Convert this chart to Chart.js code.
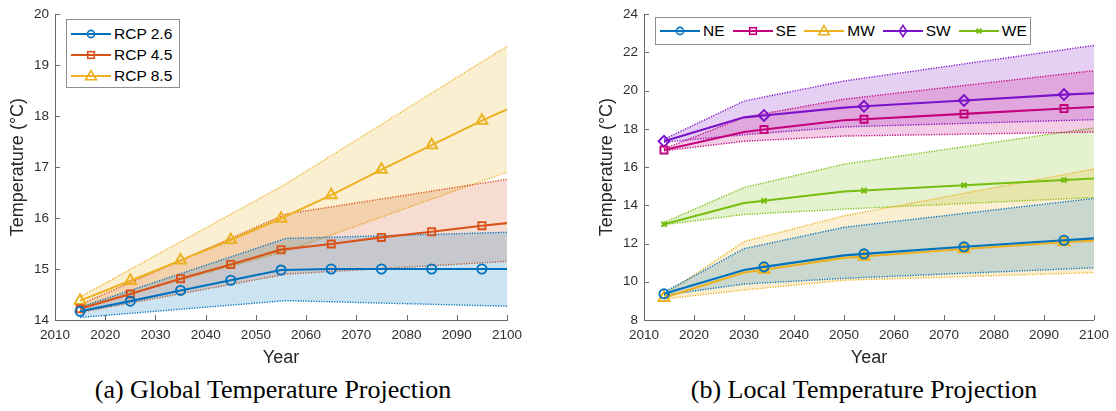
<!DOCTYPE html>
<html>
<head>
<meta charset="utf-8">
<title>Temperature Projections</title>
<script src="https://cdn.jsdelivr.net/npm/chart.js@4.4.1/dist/chart.umd.min.js"></script>
<style>
  html, body { margin: 0; padding: 0; background: #fff; }
  body { width: 1116px; height: 411px; position: relative; overflow: hidden;
         font-family: "Liberation Sans", Arial, Helvetica, sans-serif; }
  .panel { position: absolute; top: 0; height: 372px; }
  #globalPanel { left: 0; width: 558px; }
  #localPanel { left: 589px; width: 527px; }
  canvas { display: block; }
  .legend { position: absolute; background: #fff; border: 1px solid #8f8f8f;
            font-size: 15.5px; color: #000; box-sizing: border-box; }
  .legend .item { display: flex; align-items: center; white-space: nowrap; }
  .legend svg { display: block; margin-right: 3px; }
  #globalLegend { left: 66px; top: 19px; width: 114px; height: 69px; padding: 3px 4px; }
  #globalLegend .item { height: 21.3px; }
  #localLegend { left: 655px; top: 17px; width: 376px; height: 28px; padding: 0 4px;
                 display: flex; align-items: center; }
  #localLegend .item { margin-right: 8px; }
  .caption { position: absolute; top: 375px; transform: translateX(-50%);
             font-family: "Liberation Serif", "Times New Roman", serif;
             font-size: 26px; line-height: 30px; white-space: nowrap; color: #000; }
</style>
</head>
<body>
<div class="panel" id="globalPanel"><canvas id="globalChart" width="558" height="372"></canvas></div>
<div class="panel" id="localPanel"><canvas id="localChart" width="527" height="372"></canvas></div>
<div class="legend" id="globalLegend"></div>
<div class="legend" id="localLegend"></div>
<div class="caption" style="left:273px">(a) Global Temperature Projection</div>
<div class="caption" style="left:864px">(b) Local Temperature Projection</div>

<script>
// ---------- Global projection (°C) ----------
const globalYears = [2015, 2025, 2035, 2045, 2055, 2065, 2075, 2085, 2095, 2100];
const rcp26 = [14.17, 14.37, 14.58, 14.78, 14.98, 15.0, 15.0, 15.0, 15.0, 15.0];
const rcp45 = [14.22, 14.51, 14.81, 15.09, 15.38, 15.49, 15.62, 15.73, 15.85, 15.9];
const rcp85 = [14.38, 14.77, 15.17, 15.57, 15.99, 16.45, 16.95, 17.43, 17.91, 18.13];

const globalBandYears = [2015, 2056, 2100];
const rcp26Upper = [14.25, 15.6, 15.72];
const rcp26Lower = [14.05, 14.38, 14.27];
const rcp45Upper = [14.3, 16.08, 16.76];
const rcp45Lower = [14.15, 14.9, 15.15];
const rcp85Upper = [14.45, 16.67, 19.37];
const rcp85Lower = [14.25, 15.35, 16.9];

const globalYTicks = [14, 15, 16, 17, 18, 19, 20];

// ---------- Local projection (°C) ----------
const localYears = [2014, 2030, 2034, 2050, 2054, 2074, 2094, 2100];
const localMarkerYears = [2014, 2034, 2054, 2074, 2094];
const ne = [9.37, 10.62, 10.78, 11.38, 11.46, 11.83, 12.17, 12.27];
const se = [16.89, 17.83, 17.96, 18.45, 18.5, 18.78, 19.06, 19.14];
const mw = [9.16, 10.48, 10.63, 11.25, 11.32, 11.71, 12.07, 12.15];
const sw = [17.35, 18.6, 18.7, 19.11, 19.18, 19.48, 19.79, 19.86];
const we = [13.01, 14.12, 14.24, 14.72, 14.77, 15.05, 15.32, 15.4];

const localBandYears = [2014, 2030, 2050, 2100];
const neUpper = [9.45, 11.73, 12.85, 14.36];
const neLower = [9.3, 9.88, 10.18, 10.73];
const seUpper = [16.95, 18.6, 19.55, 21.04];
const seLower = [16.85, 17.35, 17.62, 17.83];
const mwUpper = [9.3, 12.1, 13.45, 15.9];
const mwLower = [9.1, 9.57, 10.08, 10.48];
const swUpper = [17.45, 19.45, 20.5, 22.36];
const swLower = [17.3, 17.69, 18.1, 18.48];
const weUpper = [13.1, 14.93, 16.15, 18.05];
const weLower = [12.98, 13.52, 13.8, 14.41];

const localYTicks = [8, 10, 12, 14, 16, 18, 20, 22, 24];

// ---------- styling ----------
const FONT = '"Liberation Sans", Arial, Helvetica, sans-serif';
const C = {
  blue: '#0072BD', orange: '#D95319', yellow: '#EDB120',
  magenta: '#C4007D', violet: '#7B12CA', green: '#76BE10'
};

function rgba(hex, a) {
  const n = parseInt(hex.slice(1), 16);
  return `rgba(${(n >> 16) & 255},${(n >> 8) & 255},${n & 255},${a})`;
}
function pts(xs, ys) { return xs.map((x, i) => ({ x, y: ys[i] })); }

const MARK = { circle: 4.6, rect: 5, triangle: 6.4, rectRot: 5.4, crossRot: 3.6 };

function lineSet(label, xs, ys, color, style, showMarker) {
  return {
    label, data: pts(xs, ys), borderColor: color, borderWidth: 2.1,
    pointStyle: style,
    pointRadius: xs.map((x, i) => showMarker(x, i) ? MARK[style] : 0),
    pointHoverRadius: 0,
    pointBorderWidth: style === 'crossRot' ? 2.2 : 1.9,
    pointBorderColor: color, pointBackgroundColor: 'rgba(0,0,0,0)',
    fill: false, tension: 0, order: 0
  };
}
function bandSets(xs, upper, lower, color) {
  const edge = {
    borderColor: color, borderWidth: 1.4, borderDash: [1.2, 1.4],
    pointRadius: 0, pointHoverRadius: 0, tension: 0, order: 1
  };
  return [
    Object.assign({ label: '', data: pts(xs, upper), fill: false }, edge),
    Object.assign({ label: '', data: pts(xs, lower), fill: '-1',
                    backgroundColor: rgba(color, 0.2) }, edge)
  ];
}

// MATLAB-style tick marks pointing into the plot area
const inwardTicks = {
  id: 'inwardTicks',
  afterDatasetsDraw(chart) {
    const { ctx, chartArea, scales } = chart;
    ctx.save();
    ctx.strokeStyle = '#6a6a6a';
    ctx.lineWidth = 1;
    ctx.beginPath();
    scales.x.ticks.forEach(t => {
      const px = Math.round(scales.x.getPixelForValue(t.value)) + 0.5;
      ctx.moveTo(px, chartArea.bottom);
      ctx.lineTo(px, chartArea.bottom - 5);
    });
    scales.y.ticks.forEach(t => {
      const py = Math.round(scales.y.getPixelForValue(t.value)) + 0.5;
      ctx.moveTo(chartArea.left, py);
      ctx.lineTo(chartArea.left + 5, py);
    });
    ctx.stroke();
    ctx.restore();
  }
};

function options(yMin, yMax, yTicks, rightPad) {
  return {
    responsive: false, animation: false, devicePixelRatio: 1,
    layout: { padding: { top: 8, right: rightPad, left: 0, bottom: 0 } },
    plugins: { legend: { display: false }, tooltip: { enabled: false } },
    events: [],
    scales: {
      x: {
        type: 'linear', min: 2010, max: 2100,
        afterBuildTicks: s => { s.ticks = []; for (let v = 2010; v <= 2100; v += 10) s.ticks.push({ value: v }); },
        ticks: { color: '#303030', font: { family: FONT, size: 13.5 }, padding: 7,
                 maxRotation: 0, autoSkip: false, callback: v => String(v) },
        grid: { display: false, drawTicks: false },
        border: { display: true, color: '#6a6a6a', width: 1 },
        title: { display: true, text: 'Year', color: '#262626',
                 font: { family: FONT, size: 18 }, padding: { top: 0, bottom: 3.5 } },
        afterFit: s => { s.height = 52; }
      },
      y: {
        type: 'linear', min: yMin, max: yMax,
        afterBuildTicks: s => { s.ticks = yTicks.map(v => ({ value: v })); },
        ticks: { color: '#303030', font: { family: FONT, size: 13.5 }, padding: 6,
                 autoSkip: false, callback: v => String(v) },
        grid: { display: false, drawTicks: false },
        border: { display: true, color: '#6a6a6a', width: 1 },
        title: { display: true, text: 'Temperature (°C)', color: '#262626',
                 font: { family: FONT, size: 18 }, padding: { top: 7.5, bottom: 0 } },
        afterFit: s => { s.width = 55; }
      }
    }
  };
}

// ---------- global chart ----------
const globalSeries = [
  { label: 'RCP 2.6', vals: rcp26, up: rcp26Upper, lo: rcp26Lower, color: C.blue, style: 'circle' },
  { label: 'RCP 4.5', vals: rcp45, up: rcp45Upper, lo: rcp45Lower, color: C.orange, style: 'rect' },
  { label: 'RCP 8.5', vals: rcp85, up: rcp85Upper, lo: rcp85Lower, color: C.yellow, style: 'triangle' }
];
const lastGlobal = globalYears.length - 1;
const globalDatasets = [];
globalSeries.forEach(s => globalDatasets.push(...bandSets(globalBandYears, s.up, s.lo, s.color)));
globalSeries.forEach(s => globalDatasets.push(
  lineSet(s.label, globalYears, s.vals, s.color, s.style, (x, i) => i < lastGlobal)));

new Chart(document.getElementById('globalChart'), {
  type: 'line',
  data: { datasets: globalDatasets },
  options: options(14, 20, globalYTicks, 51),
  plugins: [inwardTicks]
});

// ---------- local chart ----------
const localSeries = [
  { label: 'NE', vals: ne, up: neUpper, lo: neLower, color: C.blue, style: 'circle' },
  { label: 'SE', vals: se, up: seUpper, lo: seLower, color: C.magenta, style: 'rect' },
  { label: 'MW', vals: mw, up: mwUpper, lo: mwLower, color: C.yellow, style: 'triangle' },
  { label: 'SW', vals: sw, up: swUpper, lo: swLower, color: C.violet, style: 'rectRot' },
  { label: 'WE', vals: we, up: weUpper, lo: weLower, color: C.green, style: 'crossRot' }
];
const localDatasets = [];
localSeries.forEach(s => localDatasets.push(...bandSets(localBandYears, s.up, s.lo, s.color)));
localSeries.forEach(s => localDatasets.push(
  lineSet(s.label, localYears, s.vals, s.color, s.style, x => localMarkerYears.includes(x))));

new Chart(document.getElementById('localChart'), {
  type: 'line',
  data: { datasets: localDatasets },
  options: options(8, 24, localYTicks, 20),
  plugins: [inwardTicks]
});

// ---------- legends ----------
function sampleSvg(style, c) {
  const sw = 'fill="none" stroke="' + c + '" stroke-width="1.6"';
  let m = '';
  if (style === 'circle') m = `<circle cx="20" cy="7" r="3.6" ${sw}/>`;
  else if (style === 'rect') m = `<rect x="16.7" y="3.7" width="6.6" height="6.6" ${sw}/>`;
  else if (style === 'triangle') m = `<polygon points="20,1.6 25.4,10.8 14.6,10.8" ${sw}/>`;
  else if (style === 'rectRot') m = `<polygon points="20,1.4 23.6,7 20,12.6 16.4,7" ${sw}/>`;
  else if (style === 'crossRot') m = `<path d="M17.6 4.6 L22.4 9.4 M22.4 4.6 L17.6 9.4" fill="none" stroke="${c}" stroke-width="2"/>`;
  return `<svg width="40" height="14" viewBox="0 0 40 14"><line x1="0" y1="7" x2="40" y2="7" stroke="${c}" stroke-width="2"/>${m}</svg>`;
}
function buildLegend(id, series) {
  const box = document.getElementById(id);
  series.forEach(s => {
    const item = document.createElement('div');
    item.className = 'item';
    item.innerHTML = sampleSvg(s.style, s.color);
    const span = document.createElement('span');
    span.textContent = s.label;
    item.appendChild(span);
    box.appendChild(item);
  });
}
buildLegend('globalLegend', globalSeries);
buildLegend('localLegend', localSeries);
</script>
</body>
</html>
